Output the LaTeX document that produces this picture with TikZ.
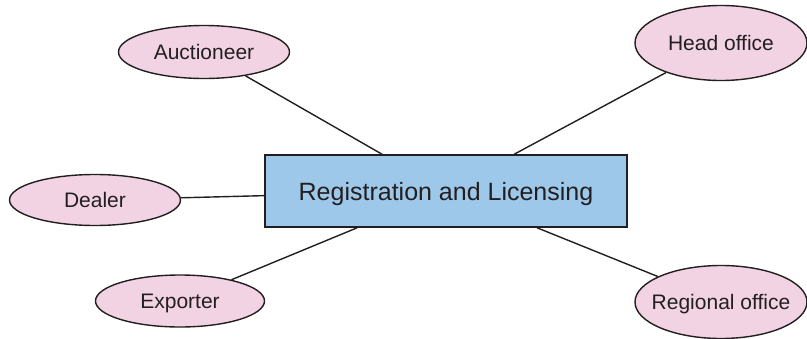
\documentclass[tikz,border=0pt]{standalone}
\usepackage{fontspec}
\setmainfont{Liberation Sans}
\usetikzlibrary{shapes.geometric}
\definecolor{inkc}{HTML}{231F20}
\definecolor{pinkc}{HTML}{F2D3E4}
\definecolor{bluec}{HTML}{9DC8E9}
\tikzset{
  oval/.style={ellipse, draw=inkc, line width=1.4pt, fill=pinkc, inner sep=0pt,
    font=\fontsize{21}{24}\selectfont, text=inkc, text depth=0pt},
  mainbox/.style={rectangle, draw=inkc, line width=1.6pt, fill=bluec, inner sep=0pt,
    minimum width=362pt, minimum height=72pt, font=\fontsize{25}{28}\selectfont, text=inkc, text depth=0pt},
  link/.style={draw=inkc, line width=1.4pt}
}
\begin{document}
\begin{tikzpicture}[x=1pt,y=-1pt]
\useasboundingbox (0,0) rectangle (807,338);
\node[mainbox] (reg) at (446,191) {Registration and Licensing};
\node[oval, minimum width=171pt, minimum height=53pt] (auc) at (204,52) {\makebox[0pt]{Auctioneer}};
\node[oval, minimum width=172pt, minimum height=75pt] (head) at (721,43) {\makebox[0pt]{Head office}};
\node[oval, minimum width=171pt, minimum height=51pt] (deal) at (95,200) {\makebox[0pt]{Dealer}};
\node[oval, minimum width=169pt, minimum height=52pt] (exp) at (180,301) {\makebox[0pt]{Exporter}};
\node[oval, minimum width=172pt, minimum height=73pt] (regi) at (721,302) {\makebox[0pt]{Regional office}};
\draw[link] (auc) -- (reg);
\draw[link] (head) -- (reg);
\draw[link] (deal) -- (reg);
\draw[link] (exp) -- (reg);
\draw[link] (regi) -- (reg);
\end{tikzpicture}
\end{document}
